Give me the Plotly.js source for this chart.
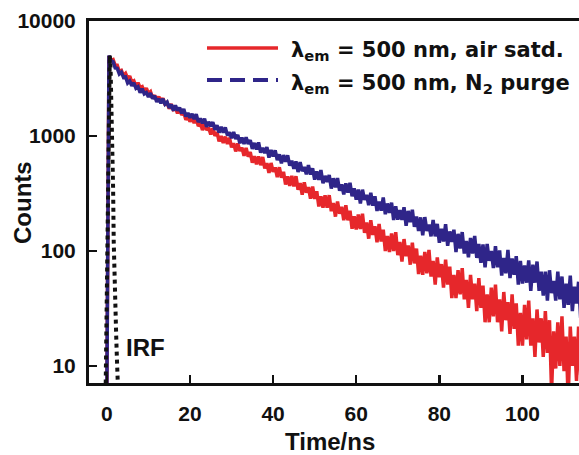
<!DOCTYPE html>
<html>
<head>
<meta charset="utf-8">
<script src="https://cdn.plot.ly/plotly-3.0.1.min.js"></script>
<style>html,body{margin:0;padding:0;background:#fff;}#chart{width:579px;height:455px;}</style>
</head>
<body>
<div id="chart"></div>
<script>
// Sampling of the decay traces (ns)
const decayStart = 0;
const decayStep = 0.5;

// lambda_em = 500 nm, air saturated (counts, every 0.5 ns from t = 0)
const airCounts = [6, 4950, 4546, 4623, 4119, 4117, 3628, 3713, 3364, 3508, 3166, 3322, 2937, 3014, 2706, 2903, 2636, 2690, 2429, 2609, 2338, 2427, 2129, 2255, 2041, 2200, 1973, 2133, 1856, 1943, 1724, 1897, 1706, 1766, 1571, 1731, 1526, 1610, 1381, 1494, 1331, 1468, 1293, 1432, 1217, 1295, 1125, 1276, 1126, 1182, 1030, 1166, 1005, 1079, 900, 997, 871, 987, 851, 967, 798, 866, 734, 860, 742, 792, 674, 788, 661, 726, 586, 666, 568, 665, 557, 656, 523, 580, 477, 582, 489, 533, 439, 535, 434, 489, 379, 446, 369, 450, 365, 447, 341, 389, 309, 395, 321, 359, 285, 364, 284, 330, 244, 299, 238, 305, 238, 306, 222, 262, 199, 269, 211, 243, 185, 250, 185, 224, 156, 200, 154, 208, 155, 211, 144, 177, 128, 185, 138, 164, 119, 172, 121, 153, 100, 135, 98, 142, 100, 146, 92, 120, 81, 127, 90, 112, 76, 118, 78, 105, 63, 91, 62, 98, 64, 102, 60, 82, 51, 88, 59, 77, 48, 84, 51, 73, 39, 62, 39, 68, 42, 71, 38, 56, 32, 62, 38, 52, 30, 58, 32, 50, 24, 42, 24, 48, 27, 51, 24, 38, 20, 44, 25, 36, 19, 42, 21, 35, 15, 29, 15, 34, 17, 37, 15, 26, 12, 31, 16, 26, 12, 30, 13, 25, 6, 20, 9.5, 24, 10, 27, 9, 18, 5, 22, 10, 18, 7.4, 22, 8.3, 18];

// lambda_em = 500 nm, N2 purged (counts, every 0.5 ns from t = 0)
const n2Counts = [6, 5000, 4524, 4423, 3906, 3876, 3464, 3588, 3226, 3262, 2886, 3004, 2734, 2896, 2601, 2679, 2378, 2576, 2326, 2386, 2180, 2366, 2109, 2239, 1980, 2107, 1921, 2104, 1893, 1970, 1756, 1881, 1663, 1846, 1664, 1761, 1574, 1719, 1479, 1585, 1441, 1560, 1406, 1546, 1320, 1421, 1288, 1412, 1199, 1328, 1218, 1319, 1132, 1239, 1070, 1202, 1071, 1188, 1012, 1076, 955, 1083, 942, 1024, 865, 967, 853, 976, 851, 922, 772, 870, 763, 880, 718, 790, 711, 801, 648, 755, 663, 751, 617, 693, 579, 682, 596, 679, 552, 610, 518, 601, 486, 593, 495, 538, 464, 557, 462, 524, 417, 491, 416, 505, 388, 450, 399, 457, 349, 429, 358, 431, 334, 380, 311, 388, 321, 391, 299, 350, 279, 342, 259, 341, 278, 307, 250, 321, 248, 299, 223, 269, 224, 292, 209, 259, 214, 263, 186, 245, 187, 227, 186, 240, 166, 223, 178, 228, 162, 199, 149, 196, 137, 197, 149, 170, 134, 186, 134, 172, 118, 156, 121, 171, 111, 148, 120, 153, 98, 141, 105, 146, 95, 122, 88, 130, 95, 135, 87, 115, 79, 114, 72, 115, 82, 100, 71, 110, 72, 101, 61, 87, 64, 102, 58, 86, 62, 90, 51, 82, 52, 75, 53, 83, 45, 76, 53, 81, 45, 66, 41, 66, 37, 68, 43, 55, 37, 66, 38, 60, 32, 52, 34, 61, 30, 49, 35, 54, 26, 48];

// Instrument response function
const irfTime = [-0.3, 0, 0.25, 0.5, 0.7, 0.9, 1.1, 1.3, 1.5, 1.65, 1.8, 1.95, 2.1, 2.25, 2.4, 2.55, 2.7];
const irfCounts = [6, 60, 700, 3500, 5000, 3800, 2000, 1000, 350, 120, 60, 38, 25, 18, 12, 9, 6];

// Axis ticks
const xTicks = [0, 20, 40, 60, 80, 100];
const yTicks = [10, 100, 1000, 10000];
const yTickText = ['10', '100', '1000', '10000'];

// Labels
const seriesNames = ['λ<sub>em</sub> = 500 nm, air satd.', 'λ<sub>em</sub> = 500 nm, N<sub>2</sub> purge'];
const irfLabel = 'IRF';

const RED = '#e6272b';
const BLUE = '#2f2589';
const FONT = 'Arial, "Liberation Sans", sans-serif';
const LEGEND_FONT = '"DejaVu Sans", Arial, sans-serif';

const traces = [
  {type: 'scatter', mode: 'lines', x0: decayStart, dx: decayStep, y: airCounts,
   line: {color: RED, width: 3.5}, name: seriesNames[0], showlegend: false, hoverinfo: 'skip'},
  {type: 'scatter', mode: 'lines', x0: decayStart, dx: decayStep, y: n2Counts,
   line: {color: BLUE, width: 3.5}, name: seriesNames[1], showlegend: false, hoverinfo: 'skip'},
  {type: 'scatter', mode: 'lines', x: irfTime, y: irfCounts,
   line: {color: '#111', width: 4, dash: '4px,4px'}, name: irfLabel, showlegend: false, hoverinfo: 'skip'}
];

const W = 490, H = 362, L = 89, T = 21;
function px(x) { return (x - L) / W; }
function py(y) { return (T + H - y) / H; }

const layout = {
  width: 579, height: 455,
  margin: {l: L, r: 0, t: T, b: 455 - T - H},
  paper_bgcolor: '#fff', plot_bgcolor: '#fff',
  showlegend: false,
  xaxis: {
    range: [-4.3, 113.6], tickvals: xTicks, ticks: 'inside', ticklen: 8, tickwidth: 2.5, tickcolor: '#111',
    showline: true, linewidth: 3, linecolor: '#111', mirror: true, showgrid: false, zeroline: false,
    tickfont: {family: FONT, size: 21, weight: 'bold', color: '#111'}, ticklabelstandoff: 10
  },
  yaxis: {
    type: 'log', range: [0.852, 4.0], tickvals: yTicks, ticktext: yTickText, ticks: 'inside', ticklen: 8, tickwidth: 2.5, tickcolor: '#111',
    showline: true, linewidth: 3, linecolor: '#111', showgrid: false, zeroline: false,
    tickfont: {family: FONT, size: 21, weight: 'bold', color: '#111'}, ticklabelstandoff: 6
  },
  shapes: [
    {type: 'line', xref: 'paper', yref: 'paper', x0: px(207), x1: px(278), y0: py(48), y1: py(48), line: {color: RED, width: 3.5}},
    {type: 'line', xref: 'paper', yref: 'paper', x0: px(207), x1: px(278), y0: py(80), y1: py(80), line: {color: BLUE, width: 4, dash: '15px,8px'}}
  ],
  annotations: [
    {xref: 'paper', yref: 'paper', x: px(289), y: py(51), xanchor: 'left', yanchor: 'middle', showarrow: false,
     text: seriesNames[0], font: {family: LEGEND_FONT, size: 21, weight: 'bold', color: '#111'}},
    {xref: 'paper', yref: 'paper', x: px(289), y: py(84), xanchor: 'left', yanchor: 'middle', showarrow: false,
     text: seriesNames[1], font: {family: LEGEND_FONT, size: 21, weight: 'bold', color: '#111'}},
    {xref: 'x', yref: 'y', x: 9.4, y: Math.log10(14.4), xanchor: 'center', yanchor: 'middle', showarrow: false,
     text: irfLabel, font: {family: FONT, size: 24, weight: 'bold', color: '#111'}},
    {xref: 'paper', yref: 'paper', x: px(23), y: py(203), xanchor: 'center', yanchor: 'middle', showarrow: false, textangle: -90,
     text: 'Counts', font: {family: FONT, size: 24, weight: 'bold', color: '#111'}},
    {xref: 'paper', yref: 'paper', x: px(330), y: py(441), xanchor: 'center', yanchor: 'middle', showarrow: false,
     text: 'Time/ns', font: {family: FONT, size: 24, weight: 'bold', color: '#111'}}
  ]
};

Plotly.newPlot('chart', traces, layout, {staticPlot: true, displayModeBar: false});
</script>
</body>
</html>
